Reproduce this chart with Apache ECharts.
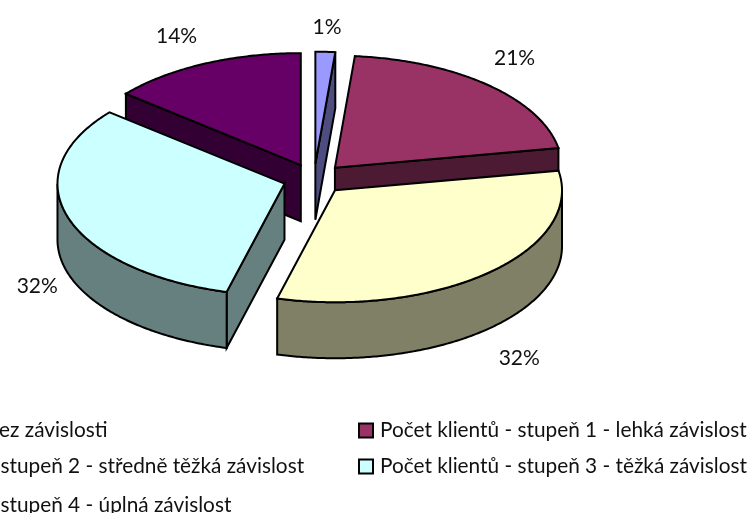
<!DOCTYPE html>
<html>
<head>
<meta charset="utf-8">
<style>
    html,body{margin:0;padding:0;background:#fff;overflow:hidden;}
    #main{width:751px;height:513px;}
</style>
<script src="https://cdn.jsdelivr.net/npm/echarts@6/dist/echarts.min.js"></script>
</head>
<body>
<div id="main"></div>
<script>
// data
var categories = [
    'Počet klientů bez závislosti',
    'Počet klientů - stupeň 1 - lehká závislost',
    'Počet klientů - stupeň 2 - středně těžká závislost',
    'Počet klientů - stupeň 3 - těžká závislost',
    'Počet klientů - stupeň 4 - úplná závislost'
];
var values = [1.4, 20.8, 31.9, 31.9, 14];
var topColors = ['#9999FF', '#993366', '#FFFFCC', '#CCFFFF', '#660066'];
var sideColors = ['#4D4D80', '#4D1A33', '#808066', '#668080', '#330033'];

// back slices first, the front ones cover them
var drawOrder = [4, 0, 1, 3, 2];

// layout of the tilted pie
var cx = 314, cy = 179, rx = 227, ry = 112, depth = 56, explode = 31;
var labelRx = 297, labelRy = 160;
var labelNudge = [[0, 8], [0, -3], [4, 6], [6, 2], [-11, 2]];
// legend slots, left column runs off the page like in the original
var legendLeft = [-159, 358, -159, 358, -159];
var legendTop = [420, 420, 456, 456, 495];

var total = values.reduce(function (a, b) { return a + b; }, 0);

function toAngle(v) {
    return echarts.number.linearMap(v, [0, total], [0, Math.PI * 2]);
}

function arcPoints(x0, y0, a1, a2) {
    var pts = [];
    var steps = Math.max(2, Math.ceil((a2 - a1) / 0.01));
    for (var i = 0; i <= steps; i++) {
        var a = a1 + (a2 - a1) * i / steps;
        pts.push([x0 + rx * Math.sin(a), y0 - ry * Math.cos(a)]);
    }
    return pts;
}

function face(points, fill) {
    return {
        type: 'polygon',
        shape: { points: points },
        style: { fill: fill, stroke: '#000', lineWidth: 2, lineJoin: 'miter' }
    };
}

function wall(x0, y0, a, fill) {
    var ex = x0 + rx * Math.sin(a), ey = y0 - ry * Math.cos(a);
    return face([[x0, y0], [ex, ey], [ex, ey + depth], [x0, y0 + depth]], fill);
}

function makeRender(idx) {
    var before = values.slice(0, idx).reduce(function (a, b) { return a + b; }, 0);
    return function (params, api) {
        var a1 = toAngle(before);
        var a2 = a1 + toAngle(api.value(0));
        var mid = (a1 + a2) / 2;
        var x0 = cx + explode * Math.sin(mid);
        var y0 = cy - explode * ry / rx * Math.cos(mid);
        var children = [];

        // cut faces, only those turned to the viewer
        if (Math.sin(a1) < 0) children.push(wall(x0, y0, a1, sideColors[idx]));
        if (Math.sin(a2) > 0) children.push(wall(x0, y0, a2, sideColors[idx]));

        // outer rim, front half only
        var r1 = Math.max(a1, Math.PI / 2), r2 = Math.min(a2, Math.PI * 1.5);
        if (r2 > r1) {
            var upper = arcPoints(x0, y0, r1, r2);
            var lower = arcPoints(x0, y0 + depth, r1, r2).reverse();
            children.push(face(upper.concat(lower), sideColors[idx]));
        }

        children.push(face([[x0, y0]].concat(arcPoints(x0, y0, a1, a2)), topColors[idx]));

        var cosMid = Math.cos(mid);
        children.push({
            type: 'text',
            z2: 10,
            style: {
                text: Math.round(api.value(0) / total * 100) + '%',
                x: cx + labelRx * Math.sin(mid) + labelNudge[idx][0],
                y: cy - labelRy * cosMid + (cosMid < 0 ? depth : 0) + labelNudge[idx][1],
                align: 'center',
                verticalAlign: 'middle',
                fill: '#111',
                fontFamily: 'Lato',
                fontSize: 21
            }
        });
        return { type: 'group', children: children };
    };
}

var chartDom = document.getElementById('main');
var myChart = echarts.init(chartDom);

var option = {
    animation: false,
    legend: categories.map(function (name, i) {
        return {
            data: [name],
            left: legendLeft[i],
            top: legendTop[i],
            padding: 0,
            itemWidth: 14,
            itemHeight: 14,
            icon: 'rect',
            selectedMode: false,
            itemStyle: { borderColor: '#000', borderWidth: 2 },
            textStyle: { fontFamily: 'Lato', fontSize: 20.8, color: '#111', padding: [0, 0, 0, 2] }
        };
    }),
    series: drawOrder.map(function (i) {
        return {
            type: 'custom',
            name: categories[i],
            coordinateSystem: 'none',
            silent: true,
            itemStyle: { color: topColors[i] },
            renderItem: makeRender(i),
            data: [values[i]]
        };
    })
};

option && myChart.setOption(option);
</script>
</body>
</html>
